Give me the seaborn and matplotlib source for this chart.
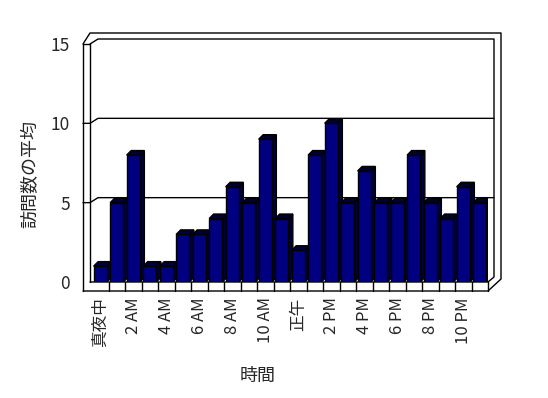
import numpy as np
import pandas as pd
import matplotlib
matplotlib.use('Agg')
import matplotlib.pyplot as plt
from matplotlib.patches import Polygon
import seaborn as sns

# data
hours = list(range(24))
visits = [1, 5, 8, 1, 1, 3, 3, 4, 6, 5, 9, 4, 2, 8, 10, 5, 7, 5, 5, 8, 5, 4, 6, 5]
tick_labels = ['真夜中', '2 AM', '4 AM', '6 AM', '8 AM', '10 AM',
               '正午', '2 PM', '4 PM', '6 PM', '8 PM', '10 PM']
y_ticks = [0, 5, 10, 15]

sns.set_style('white')
plt.rcParams['font.family'] = ['Noto Sans CJK JP', 'DejaVu Sans']

df = pd.DataFrame({'hour': hours, 'visits': visits})

fig = plt.figure(figsize=(5.48, 3.98), dpi=100)
ax = fig.add_axes([92 / 548, 1 - 282 / 398, 396 / 548, 238 / 398])

sns.barplot(data=df, x='hour', y='visits', color='#000080', width=0.8,
            edgecolor='black', linewidth=1, saturation=1, ax=ax, zorder=3)
ax.set_xlim(-0.5, 23.5)
ax.set_ylim(0, 15)

# pixel sizes in data units
ux = 24 / 396
uy = 15 / 238
L, R, T = -0.5, 23.5, 15

# fake 3d depth on each bar
bdx, bdy = 4.5 * ux, 4.5 * uy
for p in ax.patches:
    x0 = p.get_x()
    x1 = x0 + p.get_width()
    h = p.get_height()
    side = Polygon([(x1, 0), (x1 + bdx, bdy), (x1 + bdx, h + bdy), (x1, h)],
                   closed=True, facecolor='#000038', edgecolor='black', lw=1, zorder=2.5)
    top = Polygon([(x0, h), (x0 + bdx, h + bdy), (x1 + bdx, h + bdy), (x1, h)],
                  closed=True, facecolor='#000038', edgecolor='black', lw=1, zorder=2.5)
    ax.add_patch(side)
    ax.add_patch(top)

# walls and floor
kw = dict(color='black', lw=1, clip_on=False, zorder=1)
ax.plot([L - 9 * ux, L - 9 * ux], [-9 * uy, T], **kw)
ax.plot([L - 2 * ux, L - 2 * ux], [0, T], **kw)
ax.plot([L - 9 * ux, L - 2 * ux], [T, T], **kw)
ax.plot([L - 9 * ux, L - 2 * ux, R + 13 * ux, R + 13 * ux, R, L - 9 * ux],
        [T, T + 11 * uy, T + 11 * uy, 3 * uy, -9 * uy, -9 * uy], **kw)
ax.plot([L - 2 * ux, L + 6 * ux, R + 6 * ux, R + 6 * ux, R, L - 2 * ux],
        [T, T + 5 * uy, T + 5 * uy, 5 * uy, 0, 0], **kw)
ax.plot([R, R], [0, -9 * uy], **kw)
for v in [5, 10]:
    ax.plot([L - 9 * ux, L - 2 * ux, L + 6 * ux, R + 6 * ux],
            [v, v, v + 5 * uy, v + 5 * uy], **kw)
for k in range(1, 24):
    ax.plot([k - 0.5, k - 0.5], [0, -9 * uy], **kw)

for s in ax.spines.values():
    s.set_visible(False)

ax.set_yticks(y_ticks)
ax.set_yticklabels([str(t) for t in y_ticks], fontsize=12.5)
ax.set_xticks(range(0, 24, 2))
ax.set_xticklabels(tick_labels, rotation=90, fontsize=12, va='top')
ax.tick_params(axis='y', length=0, pad=16)
ax.tick_params(axis='x', length=0, pad=11)

ax.set_ylabel('訪問数の平均', fontsize=13)
ax.set_xlabel('時間', fontsize=13)
ax.yaxis.set_label_coords((30 - 92) / 396, (282 - 174) / 238)
ax.xaxis.set_label_coords((258 - 92) / 396, (282 - 376) / 238)
ax.xaxis.label.set_va('center')
ax.yaxis.label.set_va('center')

fig.savefig('out.png', dpi=100, facecolor='white')
